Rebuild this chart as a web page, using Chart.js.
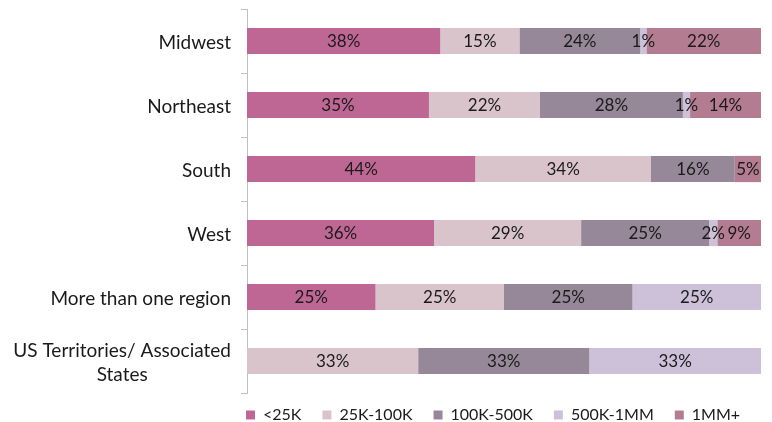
<!DOCTYPE html>
<html>
<head>
<meta charset="utf-8">
<script src="https://cdn.jsdelivr.net/npm/chart.js@4"></script>
<style>
  html, body { margin: 0; padding: 0; background: #fff; }
  #wrap { width: 772px; height: 422px; }
</style>
</head>
<body>
<div id="wrap"><canvas id="regionChart"></canvas></div>
<script>
const regions = ['Midwest', 'Northeast', 'South', 'West', 'More than one region', ['US Territories/ Associated', 'States']];
const seriesNames = ['<25K', '25K-100K', '100K-500K', '500K-1MM', '1MM+'];

// share of organisations per region (percent)
const under25k   = [37.6, 35.4, 44.4, 36.4, 25, 0];
const k25to100   = [15.4, 21.6, 34.2, 28.6, 25, 33.3];
const k100to500  = [23.5, 27.8, 16.3, 24.9, 25, 33.3];
const k500to1mm  = [1.2, 1.4, 0, 1.6, 25, 33.4];
const mm1plus    = [22.3, 13.8, 5.1, 8.5, 0, 0];

const colors = ['#BF6794', '#DAC4CB', '#968899', '#CDC1DA', '#B47C90'];
const fontFamily = 'Lato, "Open Sans", sans-serif';
const legendPad = 21;

const allValues = [under25k, k25to100, k100to500, k500to1mm, mm1plus];

// draw percentage labels in the middle of each segment
const segmentLabels = {
    id: 'segmentLabels',
    afterDatasetsDraw(chart) {
        const ctx = chart.ctx;
        ctx.save();
        ctx.font = '17px ' + fontFamily;
        ctx.fillStyle = '#1a1a1a';
        ctx.textAlign = 'center';
        ctx.textBaseline = 'middle';
        chart.data.datasets.forEach((ds, di) => {
            const meta = chart.getDatasetMeta(di);
            meta.data.forEach((bar, i) => {
                const v = ds.data[i];
                if (!v) return;
                const x = (bar.x + bar.base) / 2;
                ctx.fillText(Math.round(v) + '%', x, bar.y + 1);
            });
        });
        ctx.restore();
    }
};

// category names, right aligned, extra lines centred under the first
const categoryNames = {
    id: 'categoryNames',
    afterDraw(chart) {
        const ctx = chart.ctx;
        const y = chart.scales.y;
        ctx.save();
        ctx.font = '19px ' + fontFamily;
        ctx.fillStyle = '#1a1a1a';
        ctx.textBaseline = 'middle';
        ctx.textAlign = 'center';
        const right = y.right - 16;
        const lh = 24;
        regions.forEach((name, i) => {
            const lines = Array.isArray(name) ? name : [name];
            const w = Math.max(...lines.map(l => ctx.measureText(l).width));
            const cx = right - w / 2;
            const cy = y.getPixelForTick(i) + 2;
            const top = cy - (lines.length - 1) * lh / 2;
            lines.forEach((l, k) => ctx.fillText(l, cx, top + k * lh));
        });
        ctx.restore();
    }
};

// keep the legend short, just under the plot and starting at the axis
const legendSpacing = {
    id: 'legendSpacing',
    beforeInit(chart) {
        const originalFit = chart.legend.fit;
        chart.legend.fit = function fit() {
            originalFit.bind(chart.legend)();
            this.height = 29;
        };
    },
    afterLayout(chart) {
        const lg = chart.legend;
        lg.top -= 7;
        lg.bottom = chart.height;
        lg.left = chart.chartArea.left - legendPad - 1;
        lg.right = chart.width;
    }
};

const data = {
    labels: regions,
    datasets: seriesNames.map((name, i) => ({
        label: name,
        data: allValues[i],
        backgroundColor: colors[i],
        borderWidth: 0,
        barPercentage: 0.41,
        categoryPercentage: 1.0
    }))
};

const config = {
    type: 'bar',
    data: data,
    options: {
        indexAxis: 'y',
        responsive: true,
        maintainAspectRatio: false,
        animation: false,
        layout: {
            padding: { top: 9, right: 11, left: 0, bottom: 0 }
        },
        scales: {
            x: {
                stacked: true,
                min: 0,
                max: 100,
                display: false
            },
            y: {
                stacked: true,
                afterFit(scale) { scale.width = 247; },
                grid: {
                    offset: true,
                    drawOnChartArea: false,
                    drawTicks: true,
                    tickLength: 6,
                    color: '#BFBFBF'
                },
                border: { display: true, color: '#BFBFBF', width: 1 },
                ticks: { display: false }
            }
        },
        plugins: {
            legend: {
                position: 'bottom',
                align: 'start',
                labels: {
                    boxWidth: 9,
                    boxHeight: 9,
                    padding: legendPad,
                    color: '#1a1a1a',
                    font: { size: 16, family: fontFamily }
                }
            },
            tooltip: { enabled: false }
        }
    },
    plugins: [segmentLabels, categoryNames, legendSpacing]
};

const ctx = document.getElementById('regionChart').getContext('2d');
const myChart = new Chart(ctx, config);
</script>
</body>
</html>
